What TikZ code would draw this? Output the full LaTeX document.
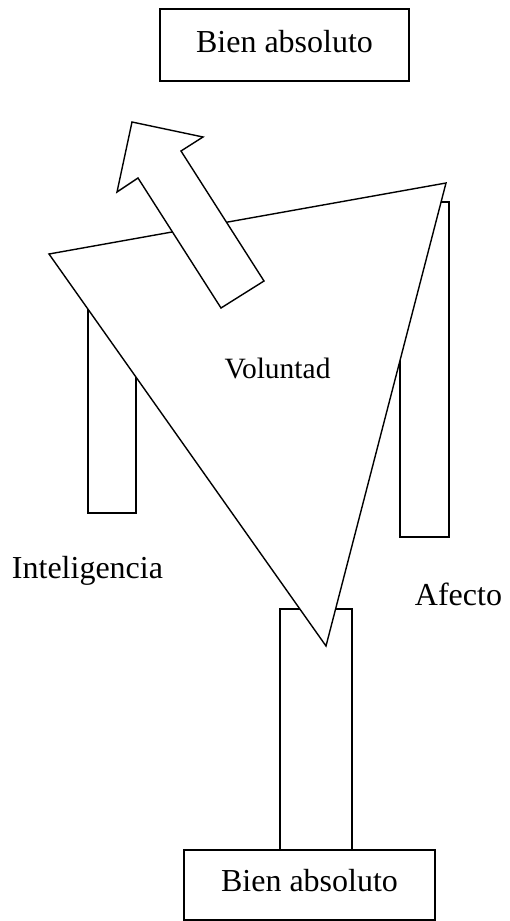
\documentclass[tikz,border=0pt]{standalone}
\usepackage{fontspec}
\setmainfont{Liberation Serif}
\begin{document}
\begin{tikzpicture}[x=1pt, y=-1pt, line width=1.4pt, line join=miter, font=\fontsize{32}{38}\selectfont]
	\tikzset{box/.style={draw, fill=white, inner sep=0pt}}
	\useasboundingbox (0,0) rectangle (509,921);
	% pillars
	\draw [fill=white] (88,290) rectangle (136,513);
	\draw [fill=white] (400,202) rectangle (449,537);
	\draw [fill=white] (280,609) rectangle (352,850);
	% triangle
	\path (49,254) coordinate (L) (446,183) coordinate (R) (326,646) coordinate (V);
	\draw [fill=white] (L)--(R)--(V)--cycle;
	% arrow
	\path (132,122) coordinate (T)
		(203,137) coordinate (RO) (181,151) coordinate (RI) (264,281) coordinate (TR)
		(221,308) coordinate (TL) (138,178) coordinate (LI) (117,192) coordinate (LO);
	\draw [fill=white] (T)--(RO)--(RI)--(TR)--(TL)--(LI)--(LO)--cycle;
	% boxes
	\node [box, minimum width=249pt, minimum height=72pt] (bientop) at (284.5,45) {};
	\node [anchor=base] (bientoptext) at (284.5,52) {Bien absoluto};
	\node [box, minimum width=251pt, minimum height=70pt] (bienbot) at (309.5,885) {};
	\node [anchor=base] (bienbottext) at (309.5,891) {Bien absoluto};
	% labels
	\node [anchor=base, font=\fontsize{29.5}{35}\selectfont] (voluntad) at (277.5,378) {Voluntad};
	\node [anchor=base] (inteligencia) at (87.5,578) {Inteligencia};
	\node [anchor=base] (afecto) at (458.5,605) {Afecto};
\end{tikzpicture}
\end{document}
